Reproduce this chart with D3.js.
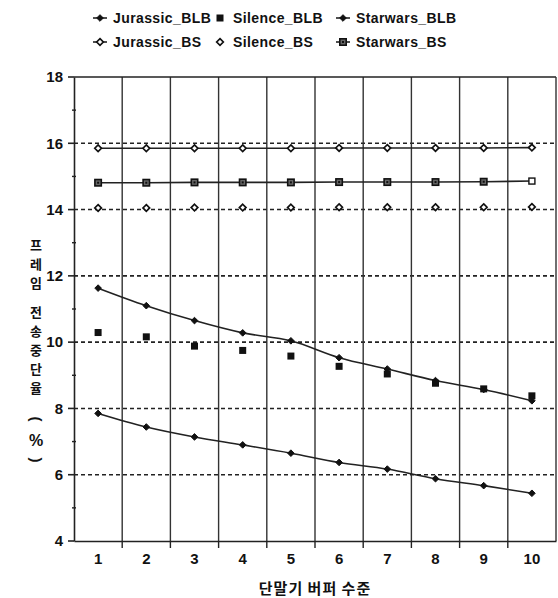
<!DOCTYPE html>
<html>
<head>
<meta charset="utf-8">
<script src="https://cdn.jsdelivr.net/npm/d3@7"></script>
<style>
  body { margin: 0; background: #fff; }
  text { font-family: "Liberation Sans", Arial, sans-serif; font-weight: bold; fill: #111; }
</style>
</head>
<body>
<svg id="chart" width="558" height="598"></svg>
<script>
const levels = ['1', '2', '3', '4', '5', '6', '7', '8', '9', '10'];
const jurassicBLB = [11.63, 11.1, 10.65, 10.28, 10.04, 9.53, 9.19, 8.84, 8.57, 8.23];
const silenceBLB = [10.29, 10.16, 9.88, 9.75, 9.58, 9.27, 9.04, 8.76, 8.59, 8.38];
const starwarsBLB = [7.85, 7.44, 7.14, 6.9, 6.65, 6.37, 6.17, 5.88, 5.67, 5.44];
const jurassicBS = [15.85, 15.85, 15.85, 15.85, 15.85, 15.86, 15.86, 15.86, 15.86, 15.87];
const silenceBS = [14.05, 14.05, 14.06, 14.06, 14.06, 14.07, 14.07, 14.07, 14.07, 14.08];
const starwarsBS = [14.81, 14.81, 14.82, 14.82, 14.82, 14.83, 14.83, 14.83, 14.84, 14.86];
const yTicks = [4, 6, 8, 10, 12, 14, 16, 18];
const yMinor = [5, 7, 9, 11, 13, 15, 17];

const svg = d3.select('#chart');
const margin = {top: 77, right: 2, bottom: 57, left: 74};
const width = 558, height = 598;
const w = width - margin.left - margin.right;
const h = height - margin.top - margin.bottom;

const g = svg.append('g').attr('transform', `translate(${margin.left},${margin.top})`);

const x = d3.scaleBand().domain(levels).range([0, w]);
const y = d3.scaleLinear().domain([4, 18]).range([h, 0]);

// horizontal dashed grid
g.selectAll('.hgrid')
  .data(yTicks.filter(d => d > 4 && d < 18))
  .enter().append('line')
  .attr('x1', 0).attr('x2', w)
  .attr('y1', d => y(d)).attr('y2', d => y(d))
  .attr('stroke', '#222').attr('stroke-width', 1.6)
  .attr('stroke-dasharray', '4,3');

// vertical grid at band edges
g.selectAll('.vgrid')
  .data(levels.slice(1))
  .enter().append('line')
  .attr('x1', d => x(d)).attr('x2', d => x(d))
  .attr('y1', 0).attr('y2', h)
  .attr('stroke', '#333').attr('stroke-width', 1.4);

// frame
g.append('line').attr('x1', 0).attr('x2', w).attr('y1', 0).attr('y2', 0)
  .attr('stroke', '#222').attr('stroke-width', 1.6);
g.append('line').attr('x1', w).attr('x2', w).attr('y1', 0).attr('y2', h)
  .attr('stroke', '#333').attr('stroke-width', 1.4);

// Y axis
const yAxis = g.append('g')
  .call(d3.axisLeft(y).tickValues(yTicks).tickSize(0).tickPadding(11));
yAxis.select('.domain').attr('stroke', '#222').attr('stroke-width', 1.6);
yAxis.selectAll('text').style('font-size', '15px').style('font-family', '"Liberation Sans", Arial, sans-serif').style('font-weight', 'bold');
g.selectAll('.minor')
  .data(yMinor)
  .enter().append('line')
  .attr('x1', -2).attr('x2', 2)
  .attr('y1', d => y(d)).attr('y2', d => y(d))
  .attr('stroke', '#222').attr('stroke-width', 1.4);
g.selectAll('.major')
  .data(yTicks)
  .enter().append('line')
  .attr('x1', -6).attr('x2', 0)
  .attr('y1', d => y(d)).attr('y2', d => y(d))
  .attr('stroke', '#222').attr('stroke-width', 1.6);

// X axis
const xAxis = g.append('g')
  .attr('transform', `translate(0,${h})`)
  .call(d3.axisBottom(x).tickSize(0).tickPadding(12));
xAxis.select('.domain').attr('stroke', '#222').attr('stroke-width', 1.6);
xAxis.selectAll('text').style('font-size', '15px').style('font-family', '"Liberation Sans", Arial, sans-serif').style('font-weight', 'bold');
g.selectAll('.xtick')
  .data(levels.slice(1))
  .enter().append('line')
  .attr('x1', d => x(d)).attr('x2', d => x(d))
  .attr('y1', h).attr('y2', h + 7)
  .attr('stroke', '#222').attr('stroke-width', 1.4);

// series
const cx = d => x(d) + x.bandwidth() / 2;
const series = [
  {name: 'Jurassic_BLB', values: jurassicBLB, shape: 'diamond', fill: '#111', line: true, curve: true},
  {name: 'Silence_BLB', values: silenceBLB, shape: 'square', fill: '#111', line: false},
  {name: 'Starwars_BLB', values: starwarsBLB, shape: 'diamond', fill: '#111', line: true, curve: true},
  {name: 'Jurassic_BS', values: jurassicBS, shape: 'diamond', fill: '#fff', line: true},
  {name: 'Silence_BS', values: silenceBS, shape: 'diamond', fill: '#fff', line: false},
  {name: 'Starwars_BS', values: starwarsBS, shape: 'dotsquare', fill: '#fff', line: true}
];

function drawMarker(sel, shape, fill, px, py) {
  if (shape === 'diamond') {
    sel.append('path')
      .attr('d', d3.symbol(d3.symbolDiamond2, 28)())
      .attr('transform', `translate(${px},${py})`)
      .attr('fill', fill).attr('stroke', '#111').attr('stroke-width', fill === '#fff' ? 1.7 : 1);
  } else if (shape === 'square') {
    sel.append('rect')
      .attr('x', px - 3.5).attr('y', py - 3.5).attr('width', 7).attr('height', 7)
      .attr('fill', fill);
  } else {
    sel.append('rect')
      .attr('x', px - 3.2).attr('y', py - 3.2).attr('width', 6.4).attr('height', 6.4)
      .attr('fill', '#666').attr('stroke', '#111').attr('stroke-width', 1.6);
    sel.append('rect')
      .attr('x', px - 1).attr('y', py - 1).attr('width', 2).attr('height', 2)
      .attr('fill', '#111');
  }
}

series.forEach(s => {
  if (s.line) {
    const lineGen = d3.line()
      .x((d, i) => cx(levels[i]))
      .y(d => y(d))
      .curve(s.curve ? d3.curveMonotoneX : d3.curveLinear);
    g.append('path').datum(s.values)
      .attr('d', lineGen)
      .attr('fill', 'none').attr('stroke', '#222').attr('stroke-width', 1.6);
  }
});
series.forEach(s => {
  s.values.forEach((v, i) => {
    // last Starwars_BS marker is hollow
    if (s.name === 'Starwars_BS' && i === levels.length - 1) {
      g.append('rect')
        .attr('x', cx(levels[i]) - 3).attr('y', y(v) - 3).attr('width', 6).attr('height', 6)
        .attr('fill', '#fff').attr('stroke', '#111').attr('stroke-width', 1.4);
      return;
    }
    drawMarker(g, s.shape, s.fill, cx(levels[i]), y(v));
  });
});

// legend
const legendCols = [100, 220, 343];
const legendRows = [18, 42];
series.forEach((s, i) => {
  const lx = legendCols[i % 3], ly = legendRows[Math.floor(i / 3)];
  const lg = svg.append('g');
  if (s.line) {
    lg.append('line').attr('x1', lx - 7).attr('x2', lx + 7).attr('y1', ly).attr('y2', ly)
      .attr('stroke', '#222').attr('stroke-width', 1.6);
  }
  drawMarker(lg, s.shape, s.fill, lx, ly);
  lg.append('text')
    .attr('x', lx + 13).attr('y', ly + 5)
    .style('font-size', '14px').style('letter-spacing', '0.4px')
    .text(s.name);
});

// x title
svg.append('text')
  .attr('x', margin.left + w / 2).attr('y', 594)
  .attr('text-anchor', 'middle')
  .style('font-size', '15px').style('letter-spacing', '1px')
  .style('font-family', '"Noto Sans CJK KR", sans-serif')
  .text('단말기 버퍼 수준');

// y title, stacked characters
const yTitle = svg.append('g');
const chars = ['프', '레', '임', null, '전', '송', '중', '단', '율'];
let cy = 250;
chars.forEach(c => {
  if (c === null) { cy += 10; return; }
  yTitle.append('text').attr('x', 36).attr('y', cy)
    .attr('text-anchor', 'middle')
    .style('font-family', '"Noto Sans CJK KR", sans-serif')
    .style('font-size', '13px').text(c);
  cy += 19;
});
// "(%)" with the brackets turned sideways
[['(', 419], [')', 460]].forEach(([c, py]) => {
  yTitle.append('text')
    .attr('transform', `translate(36,${py}) rotate(90)`)
    .attr('x', 0).attr('y', 0)
    .attr('text-anchor', 'middle')
    .attr('dominant-baseline', 'central')
    .style('font-size', '15px').text(c);
});
yTitle.append('text').attr('x', 36).attr('y', 446)
  .attr('text-anchor', 'middle').style('font-size', '16px').text('%');
</script>
</body>
</html>
